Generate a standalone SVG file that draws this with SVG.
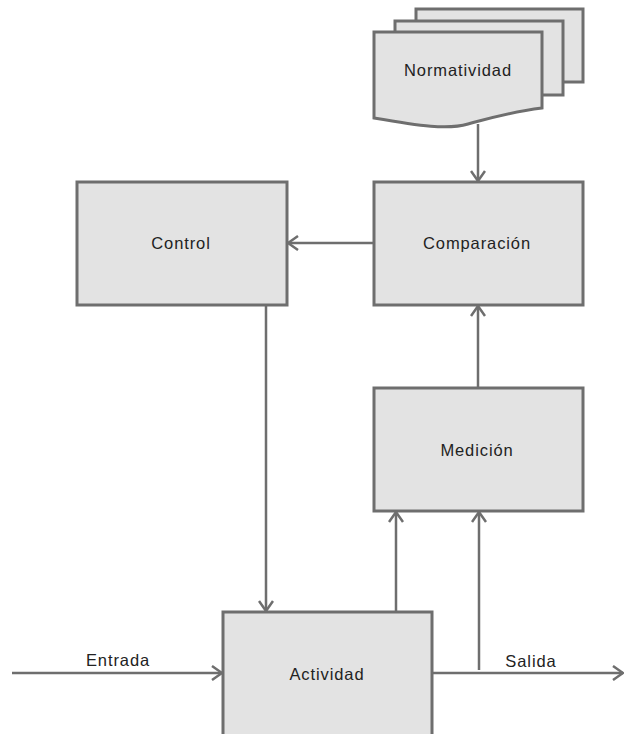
<svg xmlns="http://www.w3.org/2000/svg" width="625" height="734" viewBox="0 0 625 734">
<style>
.box{fill:#e3e3e3;stroke:#6e6e6e;stroke-width:3}
.ln{fill:none;stroke:#6e6e6e;stroke-width:2.5}
text{font-family:"Liberation Sans",Arial,sans-serif;font-size:16.5px;letter-spacing:0.9px;fill:#222}
.c{text-anchor:middle}
</style>
<defs>
<marker id="ah" viewBox="0 0 12 16" refX="11" refY="8" markerWidth="12" markerHeight="16" markerUnits="userSpaceOnUse" orient="auto">
<path d="M1,1 L11,8 L1,15" fill="none" stroke="#6e6e6e" stroke-width="2.5"/>
</marker>
</defs>
<rect width="625" height="734" fill="#fff"/>
<g id="connectors">
<line class="ln" x1="478" y1="124" x2="478" y2="181" marker-end="url(#ah)"/>
<line class="ln" x1="374" y1="243" x2="288" y2="243" marker-end="url(#ah)"/>
<line class="ln" x1="266" y1="305" x2="266" y2="611" marker-end="url(#ah)"/>
<line class="ln" x1="478" y1="388" x2="478" y2="306" marker-end="url(#ah)"/>
<line class="ln" x1="396" y1="612" x2="396" y2="512" marker-end="url(#ah)"/>
<line class="ln" x1="479" y1="670" x2="479" y2="512" marker-end="url(#ah)"/>
<line class="ln" x1="12" y1="673" x2="222" y2="673" marker-end="url(#ah)"/>
<line class="ln" x1="432" y1="673" x2="623" y2="673" marker-end="url(#ah)"/>
<text class="c" x="118" y="666">Entrada</text>
<text class="c" x="531" y="667">Salida</text>
</g>
<g id="normatividad">
<rect class="box" x="416" y="9" width="167" height="73"/>
<rect class="box" x="395" y="21" width="168" height="74"/>
<path class="box" d="M374,32 H542 V108 C510,112 490,118 468,124 C448,130 420,126 374,118 Z"/>
<text class="c" x="458" y="76">Normatividad</text>
</g>
<g id="comparacion">
<rect class="box" x="374" y="182" width="209" height="123"/>
<text class="c" x="477" y="249">Comparación</text>
</g>
<g id="control">
<rect class="box" x="77" y="182" width="210" height="123"/>
<text class="c" x="181" y="249">Control</text>
</g>
<g id="medicion">
<rect class="box" x="374" y="388" width="209" height="123"/>
<text class="c" x="477" y="456">Medición</text>
</g>
<g id="actividad">
<rect class="box" x="223" y="612" width="209" height="135"/>
<text class="c" x="327" y="680">Actividad</text>
</g>
</svg>
